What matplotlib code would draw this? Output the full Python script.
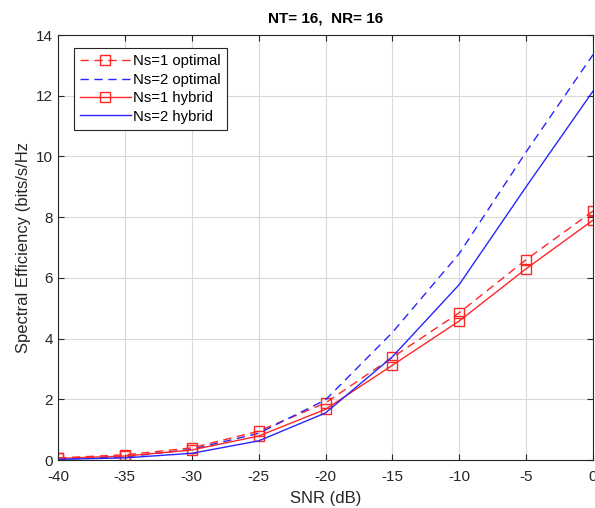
import matplotlib
matplotlib.use("Agg")
import matplotlib.pyplot as plt

plt.rcParams['font.family'] = ['Liberation Sans', 'DejaVu Sans']
plt.rcParams['axes.unicode_minus'] = False

snr = [-40, -35, -30, -25, -20, -15, -10, -5, 0]
ns1_opt = [0.07, 0.17, 0.40, 0.95, 1.88, 3.38, 4.85, 6.60, 8.20]
ns2_opt = [0.03, 0.10, 0.35, 0.88, 1.98, 4.20, 6.80, 10.15, 13.35]
ns1_hyb = [0.05, 0.13, 0.33, 0.79, 1.67, 3.12, 4.58, 6.30, 7.90]
ns2_hyb = [0.02, 0.07, 0.22, 0.63, 1.55, 3.40, 5.78, 9.00, 12.15]

xticks = [-40, -35, -30, -25, -20, -15, -10, -5, 0]
yticks = [0, 2, 4, 6, 8, 10, 12, 14]

fig = plt.figure(figsize=(5.95, 5.08), dpi=100)
ax = fig.add_axes([58/595, 48/508, 535/595, 425/508])

red = (1.0, 0.15, 0.15)
blue = (0.15, 0.15, 1.0)
ax.plot(snr, ns1_opt, '--', color=red, lw=1.0, marker='s', ms=6.5, mfc='none', mec=red, mew=1.0,
        dashes=(6, 4), label='Ns=1 optimal')
ax.plot(snr, ns2_opt, '--', color=blue, lw=1.0, dashes=(6, 4), label='Ns=2 optimal')
ax.plot(snr, ns1_hyb, '-', color=red, lw=1.0, marker='s', ms=6.5, mfc='none', mec=red, mew=1.0,
        label='Ns=1 hybrid')
ax.plot(snr, ns2_hyb, '-', color=blue, lw=1.0, label='Ns=2 hybrid')

ax.set_xlim(-40, 0)
ax.set_ylim(0, 14)
ax.set_xticks(xticks)
ax.set_yticks(yticks)
ax.grid(True, color=(0.85, 0.85, 0.85), lw=0.8)
ax.set_axisbelow(True)
ax.tick_params(direction='in', top=True, right=True, labelsize=11, colors=(0.15, 0.15, 0.15),
               length=4, width=0.8)
ax.tick_params(axis='x', pad=7)
for s in ax.spines.values():
    s.set_color((0.15, 0.15, 0.15))
    s.set_linewidth(0.8)
ax.set_xlabel('SNR (dB)', fontsize=12, color=(0.15, 0.15, 0.15), labelpad=5)
ax.set_ylabel('Spectral Efficiency (bits/s/Hz', fontsize=12, color=(0.15, 0.15, 0.15), labelpad=4)
ax.set_title('NT= 16,  NR= 16', fontsize=11, fontweight='bold', pad=9)

leg = ax.legend(loc='upper left', fontsize=10.7, handlelength=3.4, handletextpad=0.2,
                borderaxespad=0.9, fancybox=False, framealpha=1, borderpad=0.4, labelspacing=0.3,
                bbox_to_anchor=(0.005, 1.0))
leg.get_frame().set_edgecolor((0.15, 0.15, 0.15))
leg.get_frame().set_linewidth(0.8)

fig.savefig('out.png', dpi=100)
